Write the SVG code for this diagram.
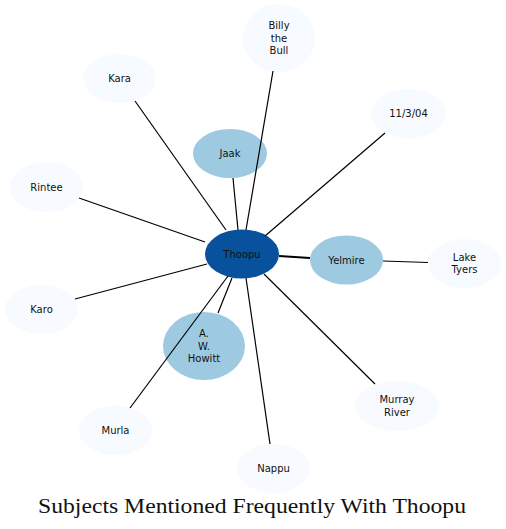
<svg xmlns="http://www.w3.org/2000/svg" width="506" height="529" viewBox="0 0 506 529">
<style>
.n text{font-family:"DejaVu Sans",sans-serif;font-size:10px;fill:#111;text-anchor:middle}
.leaf ellipse{fill:#f7fbff}
.mid ellipse{fill:#9ecae1}
.main ellipse{fill:#08519c}
#edges line{stroke:#000;stroke-width:1.2}
.title{font-family:"Liberation Serif","DejaVu Serif",serif;font-size:20px;fill:#111;text-anchor:middle}
</style>
<rect width="506" height="529" fill="#fff"/>
<g id="node-thoopu" class="n main"><ellipse cx="242" cy="254" rx="37" ry="24.5"/><text x="242" y="257.5">Thoopu</text></g>
<g id="node-yelmire" class="n mid"><ellipse cx="346.5" cy="260" rx="36.5" ry="24.5"/><text x="346.5" y="263.5">Yelmire</text></g>
<g id="node-jaak" class="n mid"><ellipse cx="230" cy="153.5" rx="37" ry="24.5"/><text x="230" y="157">Jaak</text></g>
<g id="node-howitt" class="n mid"><ellipse cx="204" cy="346" rx="41" ry="34"/><text x="204" y="337">A.</text><text x="204" y="349.5">W.</text><text x="204" y="362">Howitt</text></g>
<g id="node-billy" class="n leaf"><ellipse cx="279" cy="38" rx="36.5" ry="34"/><text x="279" y="29">Billy</text><text x="279" y="41.5">the</text><text x="279" y="54">Bull</text></g>
<g id="node-kara" class="n leaf"><ellipse cx="119.5" cy="78.5" rx="36.5" ry="24.5"/><text x="119.5" y="82">Kara</text></g>
<g id="node-date" class="n leaf"><ellipse cx="408.5" cy="113.5" rx="37.5" ry="24.5"/><text x="408.5" y="117">11/3/04</text></g>
<g id="node-rintee" class="n leaf"><ellipse cx="46.5" cy="187" rx="36.5" ry="25"/><text x="46.5" y="190.5">Rintee</text></g>
<g id="node-laketyers" class="n leaf"><ellipse cx="464.5" cy="263.5" rx="36.5" ry="24.5"/><text x="464.5" y="260.5">Lake</text><text x="464.5" y="273">Tyers</text></g>
<g id="node-karo" class="n leaf"><ellipse cx="41.5" cy="309.5" rx="36.5" ry="24.5"/><text x="41.5" y="313">Karo</text></g>
<g id="node-murray" class="n leaf"><ellipse cx="397" cy="406" rx="42" ry="25"/><text x="397" y="403">Murray</text><text x="397" y="415.5">River</text></g>
<g id="node-murla" class="n leaf"><ellipse cx="115.5" cy="430.5" rx="36.5" ry="24.5"/><text x="115.5" y="434">Murla</text></g>
<g id="node-nappu" class="n leaf"><ellipse cx="273.5" cy="468.5" rx="36.5" ry="24.5"/><text x="273.5" y="472">Nappu</text></g>
<g id="edges">
<line x1="226" y1="230" x2="135" y2="101"/>
<line x1="205" y1="242" x2="79" y2="198"/>
<line x1="207" y1="264" x2="75" y2="299"/>
<line x1="228" y1="276" x2="130" y2="408"/>
<line x1="232" y1="278" x2="218" y2="313"/>
<line x1="246" y1="278" x2="270" y2="444"/>
<line x1="264" y1="274" x2="375" y2="384"/>
<line x1="279" y1="256" x2="310" y2="258" style="stroke-width:2.2"/>
<line x1="383" y1="261" x2="428" y2="262.5"/>
<line x1="265" y1="236" x2="385" y2="133"/>
<line x1="246" y1="230" x2="273" y2="71"/>
<line x1="238" y1="230" x2="233" y2="178"/>
</g>
<text class="title" x="252" y="513" textLength="428" lengthAdjust="spacingAndGlyphs">Subjects Mentioned Frequently With Thoopu</text>
</svg>
